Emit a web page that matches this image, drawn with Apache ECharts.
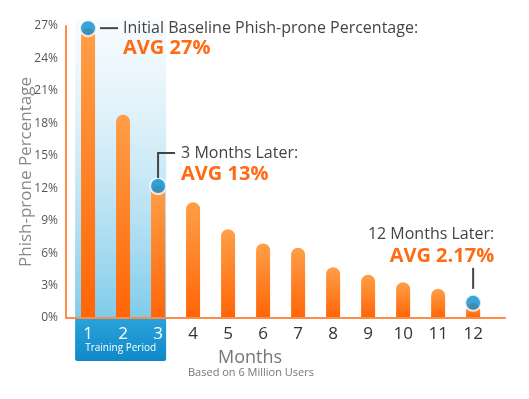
<!DOCTYPE html>
<html>
<head>
<meta charset="utf-8">
<script src="https://cdn.jsdelivr.net/npm/echarts@6/dist/echarts.min.js"></script>
<style>
  html, body { margin: 0; padding: 0; background: #fff; }
  #main { width: 529px; height: 399px; }
</style>
</head>
<body>
<div id="main"></div>
<script>
// data
const months = [1, 2, 3, 4, 5, 6, 7, 8, 9, 10, 11, 12];
const phishPct = [26.8, 18.8, 12.2, 10.7, 8.2, 6.9, 6.5, 4.7, 4.0, 3.3, 2.7, 1.4];
const trainingMonths = [1, 2, 3];
const calloutMonths = [1, 3, 12];
const calloutTitles = ["Initial Baseline Phish-prone Percentage:", "3 Months Later:", "12 Months Later:"];
const calloutAvgs = ["AVG 27%", "AVG 13%", "AVG 2.17%"];

const FONT = "'Open Sans', sans-serif";
const ORANGE = "#ff6a13";
const BLUE_DOT = "#0a8cd0";

const chart = echarts.init(document.getElementById("main"));

const dots = calloutMonths.map((m) => [m, phishPct[m - 1]]);

chart.setOption({
  animation: false,
  grid: { left: 66, right: 24, top: 26, bottom: 81 },
  xAxis: {
    type: "value",
    min: 0.37,
    max: 12.91,
    splitLine: { show: false },
    axisTick: { show: false },
    axisLine: { show: true, lineStyle: { color: "#ff8c45", width: 2 } },
    axisLabel: {
      customValues: months,
      margin: 8,
      formatter: (v) => (trainingMonths.includes(v) ? `{w|${v}}` : `{d|${v}}`),
      rich: {
        w: { color: "#fff", fontSize: 17, fontFamily: FONT },
        d: { color: "#333", fontSize: 17, fontFamily: FONT },
      },
    },
    z: 5,
  },
  yAxis: {
    type: "value",
    min: 0,
    max: 27,
    interval: 3,
    splitLine: { show: false },
    axisTick: { show: false },
    axisLine: { show: true, lineStyle: { color: "#ff8c45", width: 2 } },
    axisLabel: {
      formatter: "{value}%",
      color: "#555",
      fontSize: 12,
      fontFamily: "'Liberation Sans Narrow', " + FONT,
      margin: 8,
    },
    name: "Phish-prone Percentage",
    nameLocation: "middle",
    nameRotate: 90,
    nameGap: 31,
    nameMoveOverlap: false,
    nameTextStyle: { color: "#888", fontSize: 17, fontFamily: FONT },
    z: 5,
  },
  series: [
    {
      type: "bar",
      data: months.map((m, i) => [m, phishPct[i]]),
      barWidth: 14,
      itemStyle: {
        borderRadius: [7, 7, 0, 0],
        color: new echarts.graphic.LinearGradient(0, 0, 0, 1, [
          { offset: 0, color: "#ff9f48" },
          { offset: 1, color: "#ff6506" },
        ]),
      },
      z: 3,
    },
    {
      type: "scatter",
      data: dots,
      symbolSize: 16,
      itemStyle: { color: BLUE_DOT, borderColor: "#fff", borderWidth: 2 },
      z: 6,
    },
  ],
});

// decorations anchored to the data through the axes
const px = (x, y) => chart.convertToPixel({ gridIndex: 0 }, [x, y]);
const [bx0, byTop] = px(trainingMonths[0] - 0.37, 27.6);
const [bx1, by0] = px(trainingMonths[trainingMonths.length - 1] + 0.23, 0);
const p1 = px(dots[0][0], dots[0][1]);
const p2 = px(dots[1][0], dots[1][1]);
const p3 = px(dots[2][0], dots[2][1]);

const titleStyle = { fill: "#444", font: `16px ${FONT}`, textVerticalAlign: "middle" };
const avgStyle = { fill: ORANGE, font: `bold 20px ${FONT}`, textVerticalAlign: "middle" };
const lineStyle = { stroke: "#444", lineWidth: 2 };

chart.setOption({
  graphic: [
    {
      type: "rect",
      z: -10,
      shape: { x: bx0, y: byTop, width: bx1 - bx0, height: by0 - byTop },
      style: {
        fill: new echarts.graphic.LinearGradient(0, 0, 0, 1, [
          { offset: 0, color: "rgba(235,246,252,0.4)" },
          { offset: 1, color: "#7fcbea" },
        ]),
      },
    },
    {
      type: "rect",
      z: -10,
      shape: { x: bx0, y: by0, width: bx1 - bx0, height: 43, r: [0, 0, 2, 2] },
      style: {
        fill: new echarts.graphic.LinearGradient(0, 0, 0, 1, [
          { offset: 0, color: "#2aa3db" },
          { offset: 1, color: "#0f88c8" },
        ]),
      },
    },
    {
      type: "text",
      z: 10,
      style: {
        text: "Training Period",
        x: (bx0 + bx1) / 2,
        y: by0 + 30,
        fill: "#fff",
        font: `10px ${FONT}`,
        textAlign: "center",
        textVerticalAlign: "middle",
      },
    },
    // callout 1
    { type: "line", z: 10, shape: { x1: p1[0] + 12, y1: p1[1], x2: p1[0] + 30, y2: p1[1] }, style: lineStyle },
    { type: "text", z: 10, style: Object.assign({ text: calloutTitles[0], x: p1[0] + 35, y: p1[1] }, titleStyle) },
    { type: "text", z: 10, style: Object.assign({ text: calloutAvgs[0], x: p1[0] + 35, y: p1[1] + 20 }, avgStyle) },
    // callout 2
    {
      type: "polyline",
      z: 10,
      shape: { points: [[p2[0], p2[1] - 8], [p2[0], p2[1] - 33], [p2[0] + 17, p2[1] - 33]] },
      style: Object.assign({ fill: null }, lineStyle),
    },
    { type: "text", z: 10, style: Object.assign({ text: calloutTitles[1], x: p2[0] + 23, y: p2[1] - 33 }, titleStyle) },
    { type: "text", z: 10, style: Object.assign({ text: calloutAvgs[1], x: p2[0] + 23, y: p2[1] - 12 }, avgStyle) },
    // callout 3
    { type: "line", z: 10, shape: { x1: p3[0], y1: p3[1] - 35, x2: p3[0], y2: p3[1] - 14 }, style: lineStyle },
    {
      type: "text",
      z: 10,
      style: Object.assign({ text: calloutTitles[2], x: p3[0] + 21, y: p3[1] - 68, textAlign: "right" }, titleStyle),
    },
    {
      type: "text",
      z: 10,
      style: Object.assign({ text: calloutAvgs[2], x: p3[0] + 21, y: p3[1] - 47, textAlign: "right" }, avgStyle),
    },
    // x axis title
    {
      type: "text",
      z: 10,
      style: {
        text: "Months",
        x: 250,
        y: by0 + 40,
        fill: "#777",
        font: `18px ${FONT}`,
        textAlign: "center",
        textVerticalAlign: "middle",
      },
    },
    {
      type: "text",
      z: 10,
      style: {
        text: "Based on 6 Million Users",
        x: 251,
        y: by0 + 55,
        fill: "#777",
        font: `11px ${FONT}`,
        textAlign: "center",
        textVerticalAlign: "middle",
      },
    },
  ],
});
</script>
</body>
</html>
